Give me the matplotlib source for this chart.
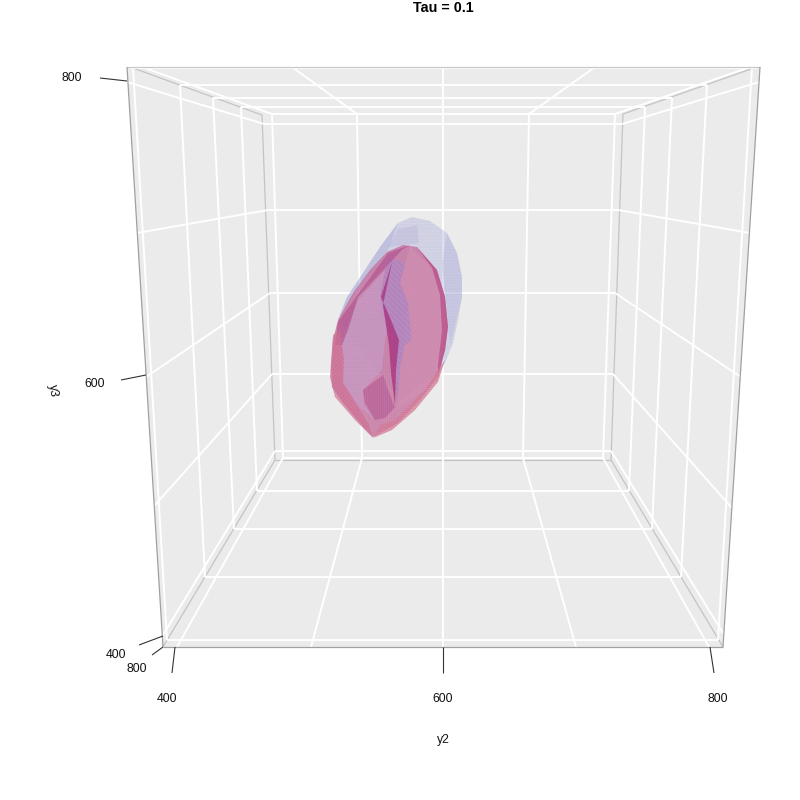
import matplotlib
matplotlib.use('Agg')
import matplotlib.pyplot as plt
from matplotlib.patches import Polygon

plt.rcParams['font.family'] = ['Liberation Sans', 'DejaVu Sans']
plt.rcParams['hatch.linewidth'] = 0.4

box_outline = [(127, 67), (760, 67), (723, 647), (163, 647)]

outer_edges = [
    [(760, 67), (723, 647)], [(723, 647), (163, 647)], [(163, 647), (127, 67)],
]
top_edge = [[(127, 67), (760, 67)]]
back_edges = [
    [(133, 68), (262, 115)], [(754, 68), (623, 114)], [(163, 647), (275, 460)], [(723, 647), (611, 460)],
    [(623, 114), (611, 460)], [(611, 460), (275, 460)], [(275, 460), (262, 115)],
]

back_grid = [
    [(272, 114), (615, 114)], [(264, 124), (622, 124)], [(268, 210), (618, 210)], [(270, 293), (615, 293)],
    [(272, 374), (613, 374)], [(275, 451), (611, 451)], [(283, 458), (603, 458)],
    [(272, 115), (283, 458)], [(357, 114), (362, 458)], [(443, 114), (443, 458)],
    [(529, 114), (523, 458)], [(615, 114), (603, 458)],
]

ceiling_grid = [
    [(130, 68), (757, 68)], [(180, 85), (707, 85)], [(213, 98), (672, 98)], [(241, 107), (645, 107)],
    [(142, 67), (272, 114)], [(292, 67), (357, 114)], [(443, 67), (443, 114)],
    [(595, 67), (529, 114)], [(750, 67), (615, 114)],
]

floor_grid = [
    [(167, 640), (718, 640)], [(205, 577), (681, 577)], [(234, 529), (652, 529)], [(257, 491), (629, 491)],
    [(177, 647), (283, 458)], [(311, 647), (362, 458)], [(443, 647), (443, 458)],
    [(576, 647), (523, 458)], [(709, 647), (603, 458)],
]

left_grid = [
    [(127, 82), (264, 124)], [(137, 233), (268, 210)], [(146, 377), (270, 293)],
    [(155, 505), (272, 374)], [(163, 635), (275, 451)],
    [(133, 67), (167, 640)], [(180, 85), (205, 577)], [(213, 98), (234, 529)], [(241, 107), (257, 491)],
]

right_grid = [
    [(759, 82), (622, 124)], [(750, 233), (618, 210)], [(741, 377), (615, 293)],
    [(732, 508), (613, 374)], [(723, 633), (611, 451)],
    [(752, 67), (718, 640)], [(707, 85), (681, 577)], [(672, 98), (652, 529)], [(645, 107), (629, 491)],
]

tick_marks = [
    [(175, 647), (172, 673)], [(443, 647), (443, 673)], [(710, 647), (714, 673)],
    [(127, 81), (100, 78)], [(146, 375), (121, 380)], [(163, 636), (139, 645)],
    [(163, 647), (152, 655)],
]

tick_labels = ['400', '600', '800', '800', '600', '400', '800']
tick_label_pos = [(167, 699), (443, 699), (718, 699), (72, 78), (95, 384), (116, 655), (137, 669)]

# outer (blue) contour
blue_x = [412, 430, 447, 457, 462, 462, 458, 453, 445, 438, 400, 338, 347, 363, 380, 398]
blue_y = [217, 221, 233, 253, 277, 297, 320, 343, 363, 373, 400, 320, 297, 273, 247, 223]
blue_top_x = [398, 417, 419, 388, 395]
blue_top_y = [229, 225, 243, 247, 235]
blue_right_x = [447, 457, 462, 462, 450, 446, 442]
blue_right_y = [233, 253, 277, 297, 345, 300, 265]
blue_left_x = [338, 347, 363, 380, 398, 388, 360]
blue_left_y = [320, 297, 273, 247, 223, 250, 285]

# inner (pink) contour
pink_x = [403, 417, 437, 445, 448, 445, 438, 420, 398, 373, 363, 343, 332, 331, 333, 338, 353, 370, 387]
pink_y = [245, 247, 270, 297, 327, 350, 377, 400, 423, 437, 427, 403, 387, 367, 340, 320, 293, 270, 252]

# pale faces
left_face_x = [358, 385, 380, 388, 385, 382, 363, 363, 375, 358, 343, 342]
left_face_y = [300, 270, 297, 325, 340, 370, 390, 403, 420, 405, 383, 340]
right_face_x = [410, 432, 443, 447, 440, 425, 397, 400, 405, 408, 400]
right_face_y = [247, 267, 290, 327, 367, 390, 410, 367, 340, 303, 283]

# violet strips beside the crease
violet_x = [388, 405, 400, 408, 412, 405, 400, 397, 395, 390, 385, 380]
violet_y = [258, 263, 283, 303, 340, 345, 367, 405, 370, 335, 320, 297]

# striped wedge at the lower middle
wedge_x = [363, 383, 393, 395, 385, 375, 365]
wedge_y = [390, 375, 403, 407, 418, 420, 403]

# dark crease
crease_x = [392, 381, 391, 399, 396, 395, 391, 389, 383]
crease_y = [262, 297, 320, 340, 370, 405, 373, 345, 305]

# rims
rim_left_x = [338, 388, 410, 402, 358, 348, 342, 335]
rim_left_y = [322, 253, 245, 250, 297, 330, 345, 345]
rim_right_x = [417, 437, 445, 448, 445, 438, 438, 442, 440, 432]
rim_right_y = [247, 270, 297, 327, 350, 377, 365, 330, 295, 268]
rim_low_left_x = [330, 333, 340, 344, 343, 358, 368, 373, 355, 335]
rim_low_left_y = [377, 335, 330, 360, 383, 407, 423, 438, 420, 397]
rim_low_right_x = [373, 392, 415, 438, 445, 440, 425, 395, 380]
rim_low_right_y = [438, 430, 410, 382, 360, 367, 390, 420, 425]

fig = plt.figure(figsize=(8, 8), dpi=100)
ax = fig.add_axes([0, 0, 1, 1])
ax.set_xlim(0, 800)
ax.set_ylim(800, 0)
ax.axis('off')

ax.add_patch(Polygon(box_outline, closed=True, fc='#EBEBEB', ec='none', zorder=1))


def draw_lines(segs, col, width, z):
    for seg in segs:
        ax.plot([seg[0][0], seg[1][0]], [seg[0][1], seg[1][1]], color=col, lw=width, zorder=z, solid_capstyle='butt')


draw_lines(back_edges, '#C4C4C4', 0.9, 2)
draw_lines(back_grid + ceiling_grid + floor_grid + left_grid + right_grid, 'white', 1.4, 3)
draw_lines(top_edge, '#C8C8C8', 0.9, 4)
draw_lines(outer_edges, '#A0A0A0', 0.9, 4)
draw_lines(tick_marks, '#333333', 0.8, 4)

for lab, pos in zip(tick_labels, tick_label_pos):
    ax.text(pos[0], pos[1], lab, fontsize=8.8, ha='center', va='center', color='#111111')

ax.text(443, 8, 'Tau = 0.1', fontsize=10.3, fontweight='bold', ha='center', va='center')
ax.text(443, 740, 'y2', fontsize=8.8, ha='center', va='center', color='#111111')
ax.text(53, 391, 'y3', fontsize=8.8, rotation=-83, ha='center', va='center', color='#111111')


def blob(xs, ys, face, hatch_col=None, hatch=None, z=5):
    ax.add_patch(Polygon(list(zip(xs, ys)), closed=True, fc=face, ec='none', zorder=z))
    if hatch:
        ax.add_patch(Polygon(list(zip(xs, ys)), closed=True, fc='none', ec=hatch_col, lw=0, hatch=hatch, zorder=z))


blob(blue_x, blue_y, (0.62, 0.62, 0.84, 0.34), (0.95, 0.95, 1.0, 0.22), '------')
blob(blue_top_x, blue_top_y, (0.58, 0.55, 0.78, 0.18))
blob(blue_right_x, blue_right_y, (0.58, 0.58, 0.82, 0.18))
blob(blue_left_x, blue_left_y, (0.50, 0.50, 0.80, 0.22))

blob(pink_x, pink_y, (0.76, 0.42, 0.60, 0.78), (0.90, 0.72, 0.82, 0.22), '||||||||')
blob(right_face_x, right_face_y, (0.83, 0.58, 0.71, 0.60), (0.75, 0.42, 0.60, 0.18), '////////', z=6)
blob(left_face_x, left_face_y, (0.79, 0.62, 0.78, 0.75), (0.68, 0.42, 0.66, 0.20), '--------', z=6)
blob(violet_x, violet_y, (0.68, 0.52, 0.76, 0.75), (0.86, 0.74, 0.88, 0.30), '\\\\\\\\\\\\', z=7)
blob(wedge_x, wedge_y, (0.72, 0.38, 0.60, 0.80), (0.86, 0.62, 0.76, 0.22), '||||||||', z=7)
blob(rim_left_x, rim_left_y, (0.70, 0.32, 0.56, 0.62), (0.58, 0.30, 0.60, 0.22), '////////', z=8)
blob(rim_right_x, rim_right_y, (0.70, 0.26, 0.50, 0.60), z=8)
blob(rim_low_left_x, rim_low_left_y, (0.80, 0.42, 0.56, 0.65), (0.92, 0.68, 0.76, 0.28), '////////', z=8)
blob(rim_low_right_x, rim_low_right_y, (0.82, 0.46, 0.58, 0.75), (0.94, 0.74, 0.80, 0.30), '--------', z=8)
blob(crease_x, crease_y, (0.66, 0.16, 0.46, 0.70), z=9)

fig.savefig('out.png', dpi=100)
